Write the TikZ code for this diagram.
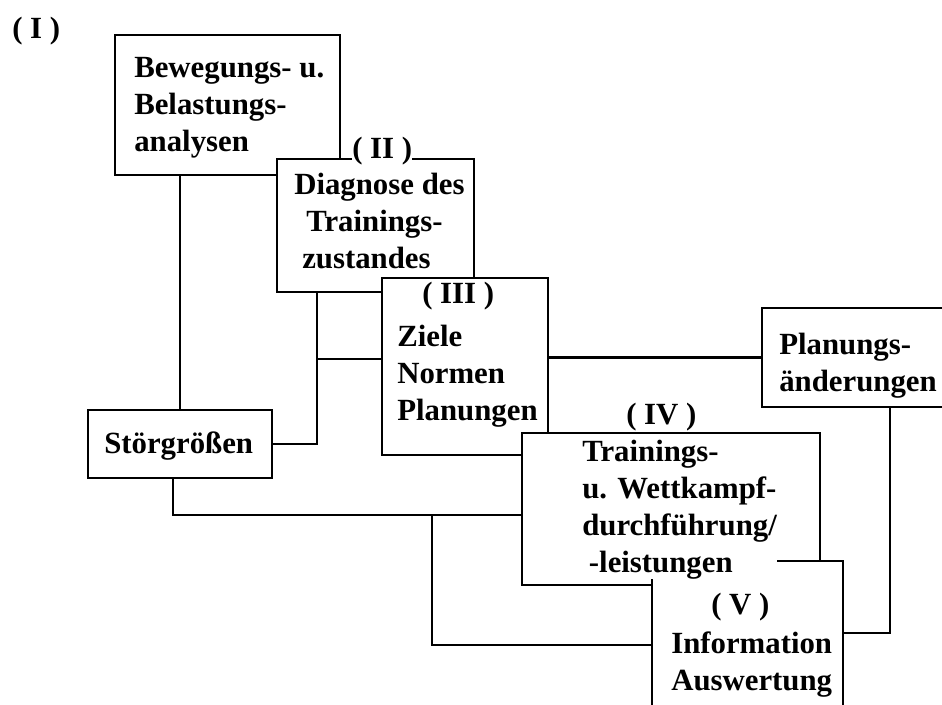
\documentclass[tikz,border=0pt]{standalone}
\usepackage{fontspec}
\setmainfont{Liberation Serif}
\usetikzlibrary{fit}

\tikzset{
  kasten/.style={draw, fill=white, line width=1.9pt, inner sep=0pt},
  textblock/.style={font=\bfseries\fontsize{23.1}{27.75}\selectfont, align=left, anchor=north west, inner sep=0pt},
  nummer/.style={textblock},
  linie/.style={line width=1.6pt}
}

\begin{document}
\begin{tikzpicture}[x=0.75pt, y=-0.75pt]
		\useasboundingbox (0,0) rectangle (942,704);
		% Rahmen der Kaesten
		\begin{scope}
		\clip (0,0) rectangle (942,704);
		\node (bew) [kasten, fit={(115,35) (340,175)}] {};
		\node (diag) [kasten, fit={(277,159) (474,292)}] {};
		\node (ziel) [kasten, fit={(382,278) (548,455)}] {};
		\node (plan) [kasten, fit={(762,308) (955,407)}] {};
		\node (stoer) [kasten, fit={(88,410) (272,478)}] {};
		\node (train) [kasten, fit={(522,433) (820,585)}] {};
		\node (info) [kasten, fit={(652,561) (843,715)}] {};
		\end{scope}
		
		% Texte
		\node (nrI) at (12,17) [nummer] {( I )};
		\node (bewT) at (134,57) [textblock] {Bewegungs- u.\\Belastungs-\\analysen};
		\node (nrII) at (352,137) [nummer, fill=white] {( II )};
		\node (diagT) at (294,173) [textblock] {Diagnose des\\\hspace{9pt}Trainings-\\\hspace{6pt}zustandes};
		\node (nrIII) at (422,282) [nummer] {( III )};
		\node (zielT) at (397,325) [textblock] {Ziele\\Normen\\Planungen};
		\node (planT) at (779,333) [textblock] {Planungs-\\änderungen};
		\node (stoerT) at (104,432) [textblock] {Störgrößen};
		\node (nrIV) at (626,403) [nummer] {( IV )};
		\node (trainT) at (582,440) [textblock, fill=white] {Trainings-\\u. Wettkampf-\\durchführung/\\\hspace{5pt}-leistungen};
		\node (nrV) at (711,593) [nummer] {( V )};
		\node (infoT) at (671,632) [textblock] {Information\\Auswertung};
		
		% Verbindungen
		\coordinate (knA) at (317,359);
		\coordinate (knB) at (890,633);
		\coordinate (knC) at (173,515);
		\coordinate (knD) at (432,515);
		\coordinate (knE) at (432,645);
		\draw[linie] (stoer.north) -- (stoer.north |- bew.south);
		\draw[linie] (stoer.east) -| (diag.south -| knA);
		\draw[linie] (knA) -- (knA -| ziel.west);
		\draw[linie] (ziel.east |- plan.west) -- (plan.west);
		\draw[linie] (plan.south -| knB) -- (knB) -- (knB -| info.east);
		\draw[linie] (stoer.south -| knC) |- (train.west |- knC);
		\draw[linie] (knD) -- (knE) -- (knE -| info.west);
		
	\end{tikzpicture}
\end{document}
